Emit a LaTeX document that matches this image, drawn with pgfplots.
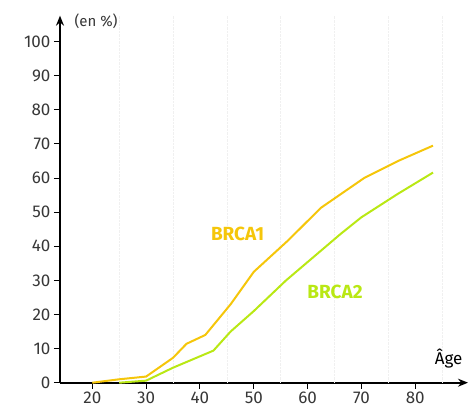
\documentclass[border=0pt]{standalone}
\usepackage{fontspec}
\setmainfont{Fira Sans}
\usepackage{pgfplots}
\pgfplotsset{compat=1.18}
\usetikzlibrary{arrows.meta}
\definecolor{brcaone}{RGB}{245,198,10}
\definecolor{brcatwo}{RGB}{185,232,20}
\definecolor{ticktext}{RGB}{55,55,55}
\begin{document}
\begin{tikzpicture}
\begin{axis}[
  at={(0pt,0pt)}, anchor=south west,
  scale only axis, width=408pt, height=367pt,
  xmin=14, xmax=89.8, ymin=0, ymax=107.6,
  axis lines=left,
  x axis line style={line width=2pt, -{Stealth[length=10pt,width=8pt]}},
  y axis line style={line width=1.4pt, -{Stealth[length=10pt,width=8pt]}},
  xtick={20,30,...,80}, ytick={0,10,...,100},
  tick align=outside, major tick length=6pt,
  tick style={black, line width=1pt},
  ticklabel style={font=\fontsize{17}{20}\selectfont, text=ticktext},
  /pgf/number format/assume math mode=true,
  extra x ticks={25,35,...,85}, extra x tick labels={},
  extra x tick style={major tick length=0pt, grid=major,
    major grid style={gray!12, densely dotted, line width=0.6pt}},
  clip=false,
]
\addplot[brcaone, line width=2pt] coordinates {
  (20,0) (25,1) (30,1.8) (35,7.3) (37.5,11.4) (41,14) (45.7,23)
  (50,32.5) (56.3,41.6) (62.5,51.3) (70.5,60) (76.8,65) (83.3,69.5)};
\addplot[brcatwo, line width=2pt] coordinates {
  (25,0) (30,0.6) (35,4.4) (42.5,9.4) (45.7,15) (50,21) (56,30)
  (66.2,43.7) (70,48.5) (76.8,55.4) (83.3,61.6)};
\node[text=brcaone, font=\bfseries\fontsize{19}{22}\selectfont] at (axis cs:47,43.7) {BRCA1};
\node[text=brcatwo, font=\bfseries\fontsize{19}{22}\selectfont] at (axis cs:65.1,26.7) {BRCA2};
\node[text=ticktext, font=\fontsize{15}{18}\selectfont] at (axis cs:20.7,106.1) {(en \%)};
\node[text=black, font=\fontsize{17}{20}\selectfont] at (axis cs:86.2,7.2) {Âge};
\end{axis}
\pgfresetboundingbox
\path[use as bounding box] (-60pt,-28.3pt) rectangle (408pt,382.7pt);
\end{tikzpicture}
\end{document}
